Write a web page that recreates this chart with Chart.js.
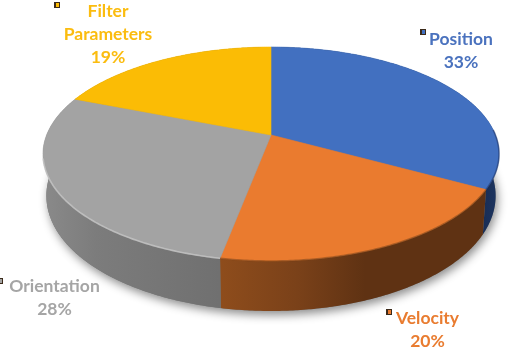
<!DOCTYPE html>
<html>
<head>
<meta charset="utf-8">
<style>html,body{margin:0;padding:0;background:#fff}canvas{display:block}</style>
<script src="https://cdn.jsdelivr.net/npm/chart.js@4"></script>
</head>
<body>
<canvas id="c" width="508" height="350"></canvas>
<script>
const categories = ['Position', 'Velocity', 'Orientation', 'Filter Parameters'];
const shares = [33, 20, 28, 19];
const topColors = ['#4270C0', '#EA7B2F', '#A3A3A3', '#FBBC05'];
const labelColors = ['#4A72BE', '#E97C30', '#A5A5A5', '#FBBC0F'];
const wallStops = [
  [[0, '#14264A'], [1, '#1E3662']],
  [[0, '#8F4D1C'], [0.3, '#7A4119'], [0.55, '#5F3213'], [1, '#5F3213']],
  [[0, '#8A8A8A'], [0.3, '#7C7C7C'], [1, '#707070']],
  [[0, '#9A7600'], [1, '#9A7600']]
];
const rimColors = ['rgba(30,50,100,0.5)', 'rgba(110,60,20,0.45)', 'rgba(200,200,200,0.75)', 'rgba(0,0,0,0)'];
const rimLimit = [0, 0, Math.PI - 0.22, 0];
const wallRanges = [[470, 500], [217, 486], [43, 219], [40, 272]];
const labelBoxes = [
  {x: 461, y: 39, mx: 420, my: 29},
  {x: 427.5, y: 318, mx: 386, my: 309},
  {x: 54.5, y: 286, mx: -3, my: 278},
  {x: 108, y: 11, mx: 54, my: 2}
];

// perspective view of the disc
const CX = 271, CY = 135, K = -0.1776, AY = 103.6, BX = 224.4;
function project(a) {
  const u = Math.cos(a), v = Math.sin(a), w = 1 + K * v;
  return {x: CX + BX * u / w, y: CY + AY * v / w, v};
}
function under(a) {
  const p = project(a);
  return {x: CX + (p.x - CX) * 0.985, y: p.y + 40 + 10 * p.v};
}
function trace(ctx, a0, a1, fn, first) {
  const n = Math.max(2, Math.ceil(Math.abs(a1 - a0) / 0.01));
  for (let i = 0; i <= n; i++) {
    const p = fn(a0 + (a1 - a0) * i / n);
    if (i === 0 && first) ctx.moveTo(p.x, p.y); else ctx.lineTo(p.x, p.y);
  }
}

const disc3d = {
  id: 'disc3d',
  beforeDatasetsDraw(chart) {
    const ctx = chart.ctx;
    const arcs = chart.getDatasetMeta(0).data;
    const full0 = arcs[0].startAngle, full1 = arcs[arcs.length - 1].endAngle;
    ctx.save();

    // soft ground shadow
    ctx.save();
    ctx.shadowColor = 'rgba(0,0,0,0.45)';
    ctx.shadowBlur = 10;
    ctx.shadowOffsetX = 2;
    ctx.shadowOffsetY = 4;
    ctx.fillStyle = '#777';
    ctx.beginPath();
    trace(ctx, full0, full1, under, true);
    ctx.closePath();
    ctx.fill();
    ctx.restore();

    // side walls
    arcs.forEach((arc, i) => {
      const g = ctx.createLinearGradient(wallRanges[i][0], 0, wallRanges[i][1], 0);
      wallStops[i].forEach(s => g.addColorStop(s[0], s[1]));
      ctx.fillStyle = g;
      ctx.beginPath();
      trace(ctx, arc.startAngle, arc.endAngle, project, true);
      trace(ctx, arc.endAngle, arc.startAngle, under, false);
      ctx.closePath();
      ctx.fill();
    });

    // top faces
    arcs.forEach((arc, i) => {
      ctx.fillStyle = topColors[i];
      ctx.strokeStyle = topColors[i];
      ctx.lineWidth = 0.6;
      ctx.beginPath();
      ctx.moveTo(CX, CY);
      trace(ctx, arc.startAngle, arc.endAngle, project, false);
      ctx.closePath();
      ctx.fill();
      ctx.stroke();
    });

    // bevelled rim on the near side
    arcs.forEach((arc, i) => {
      ctx.strokeStyle = rimColors[i];
      ctx.lineWidth = 1.6;
      ctx.beginPath();
      const lo = Math.max(arc.startAngle, -0.05);
      const hi = Math.min(arc.endAngle, rimLimit[i] || Math.PI);
      if (hi > lo) {
        trace(ctx, lo, hi, project, true);
        ctx.stroke();
      }
    });
    ctx.restore();
    return false;
  },
  afterDraw(chart) {
    const ctx = chart.ctx;
    ctx.save();
    ctx.textAlign = 'center';
    ctx.textBaseline = 'middle';
    ctx.font = 'bold 17.5px Lato, "Open Sans", sans-serif';
    categories.forEach((name, i) => {
      const box = labelBoxes[i];
      const lines = name.split(' ').concat(shares[i] + '%');
      ctx.fillStyle = labelColors[i];
      lines.forEach((t, j) => ctx.fillText(t, box.x, box.y + j * 23));
      // tiny key marker
      ctx.fillStyle = '#3b2a1a';
      ctx.fillRect(box.mx, box.my, 6, 6);
      ctx.fillStyle = topColors[i];
      ctx.fillRect(box.mx + 2, box.my + 1, 3, 4);
    });
    ctx.restore();
  }
};

new Chart(document.getElementById('c'), {
  type: 'pie',
  data: {labels: categories, datasets: [{data: shares, backgroundColor: topColors, borderWidth: 0}]},
  options: {
    responsive: false,
    animation: false,
    plugins: {legend: {display: false}, tooltip: {enabled: false}}
  },
  plugins: [disc3d]
});
</script>
</body>
</html>
